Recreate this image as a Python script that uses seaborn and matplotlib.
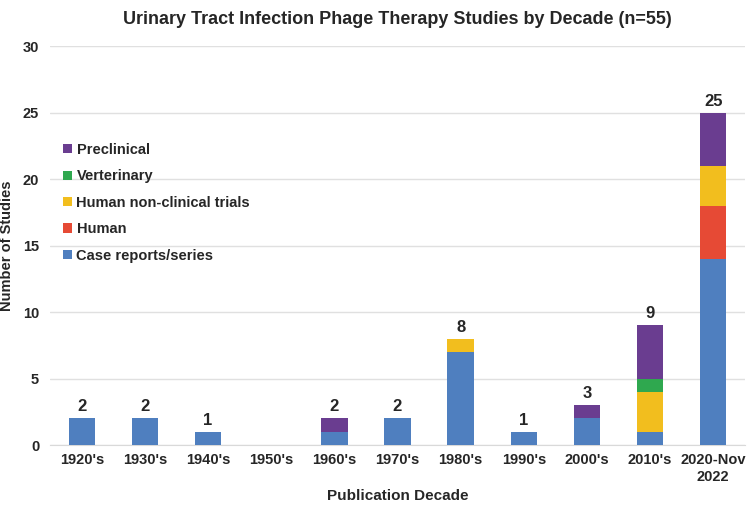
import seaborn as sns
import pandas as pd
import numpy as np
import matplotlib.pyplot as plt

# dados
decadas = ["1920's", "1930's", "1940's", "1950's", "1960's", "1970's",
           "1980's", "1990's", "2000's", "2010's", "2020-Nov\n2022"]
case_reports = [2, 2, 1, 0, 1, 2, 7, 1, 2, 1, 14]
human = [0, 0, 0, 0, 0, 0, 0, 0, 0, 0, 4]
human_non_clinical = [0, 0, 0, 0, 0, 0, 1, 0, 0, 3, 3]
veterinary = [0, 0, 0, 0, 0, 0, 0, 0, 0, 1, 0]
preclinical = [0, 0, 0, 0, 1, 0, 0, 0, 1, 4, 4]

series = [("Case reports/series", case_reports, "#4f7fbf"),
          ("Human", human, "#e64a35"),
          ("Human non-clinical trials", human_non_clinical, "#f2be1e"),
          ("Verterinary", veterinary, "#2fa84f"),
          ("Preclinical", preclinical, "#6a3d90")]

df = pd.DataFrame({"Decada": decadas})
acumulado = np.zeros(len(decadas))
for nome, valores, cor in series:
    acumulado = acumulado + np.array(valores)
    df[nome] = acumulado

sns.set_style("white")
plt.rcParams['font.family'] = ['Liberation Sans', 'DejaVu Sans']
plt.rcParams['font.weight'] = 'bold'

fig, ax = plt.subplots(figsize=(7.5, 5.23), dpi=100)
fig.subplots_adjust(left=0.067, right=0.993, bottom=0.149, top=0.912)

# barras empilhadas: desenha do total para baixo
for nome, valores, cor in reversed(series):
    sns.barplot(data=df, x="Decada", y=nome, color=cor, width=0.42,
                saturation=1, ax=ax, label=nome, zorder=3, linewidth=0)

totais = df["Preclinical"].values
for i, t in enumerate(totais):
    if t > 0:
        ax.text(i, t + 0.3, f"{int(t)}", ha="center", va="bottom",
                fontsize=12, fontweight="bold")

ax.set_ylim(0, 30)
ax.set_yticks(range(0, 31, 5))
ax.yaxis.grid(True, color="#e0e0e0", linewidth=1, zorder=0)
ax.set_axisbelow(True)
for lado in ["top", "right", "left"]:
    ax.spines[lado].set_visible(False)
ax.spines["bottom"].set_color("#d9d9d9")
ax.tick_params(axis="both", length=0, labelsize=10.5)
ax.tick_params(axis="y", pad=8)
ax.tick_params(axis="x", pad=6)
for lab in ax.get_xticklabels() + ax.get_yticklabels():
    lab.set_fontweight("bold")

ax.set_xlabel("Publication Decade", fontsize=11, fontweight="bold")
ax.set_ylabel("Number of Studies", fontsize=10.5, fontweight="bold", labelpad=6)
ax.set_title("Urinary Tract Infection Phage Therapy Studies by Decade (n=55)",
             fontsize=13, fontweight="bold", pad=16)

leg = ax.legend(loc="upper left", bbox_to_anchor=(0.0, 0.79), frameon=False,
                fontsize=10.5, handlelength=0.6, handleheight=0.6,
                handletextpad=0.3, labelspacing=0.85)
for t in leg.get_texts():
    t.set_fontweight("bold")

plt.savefig("out.png", dpi=100)
